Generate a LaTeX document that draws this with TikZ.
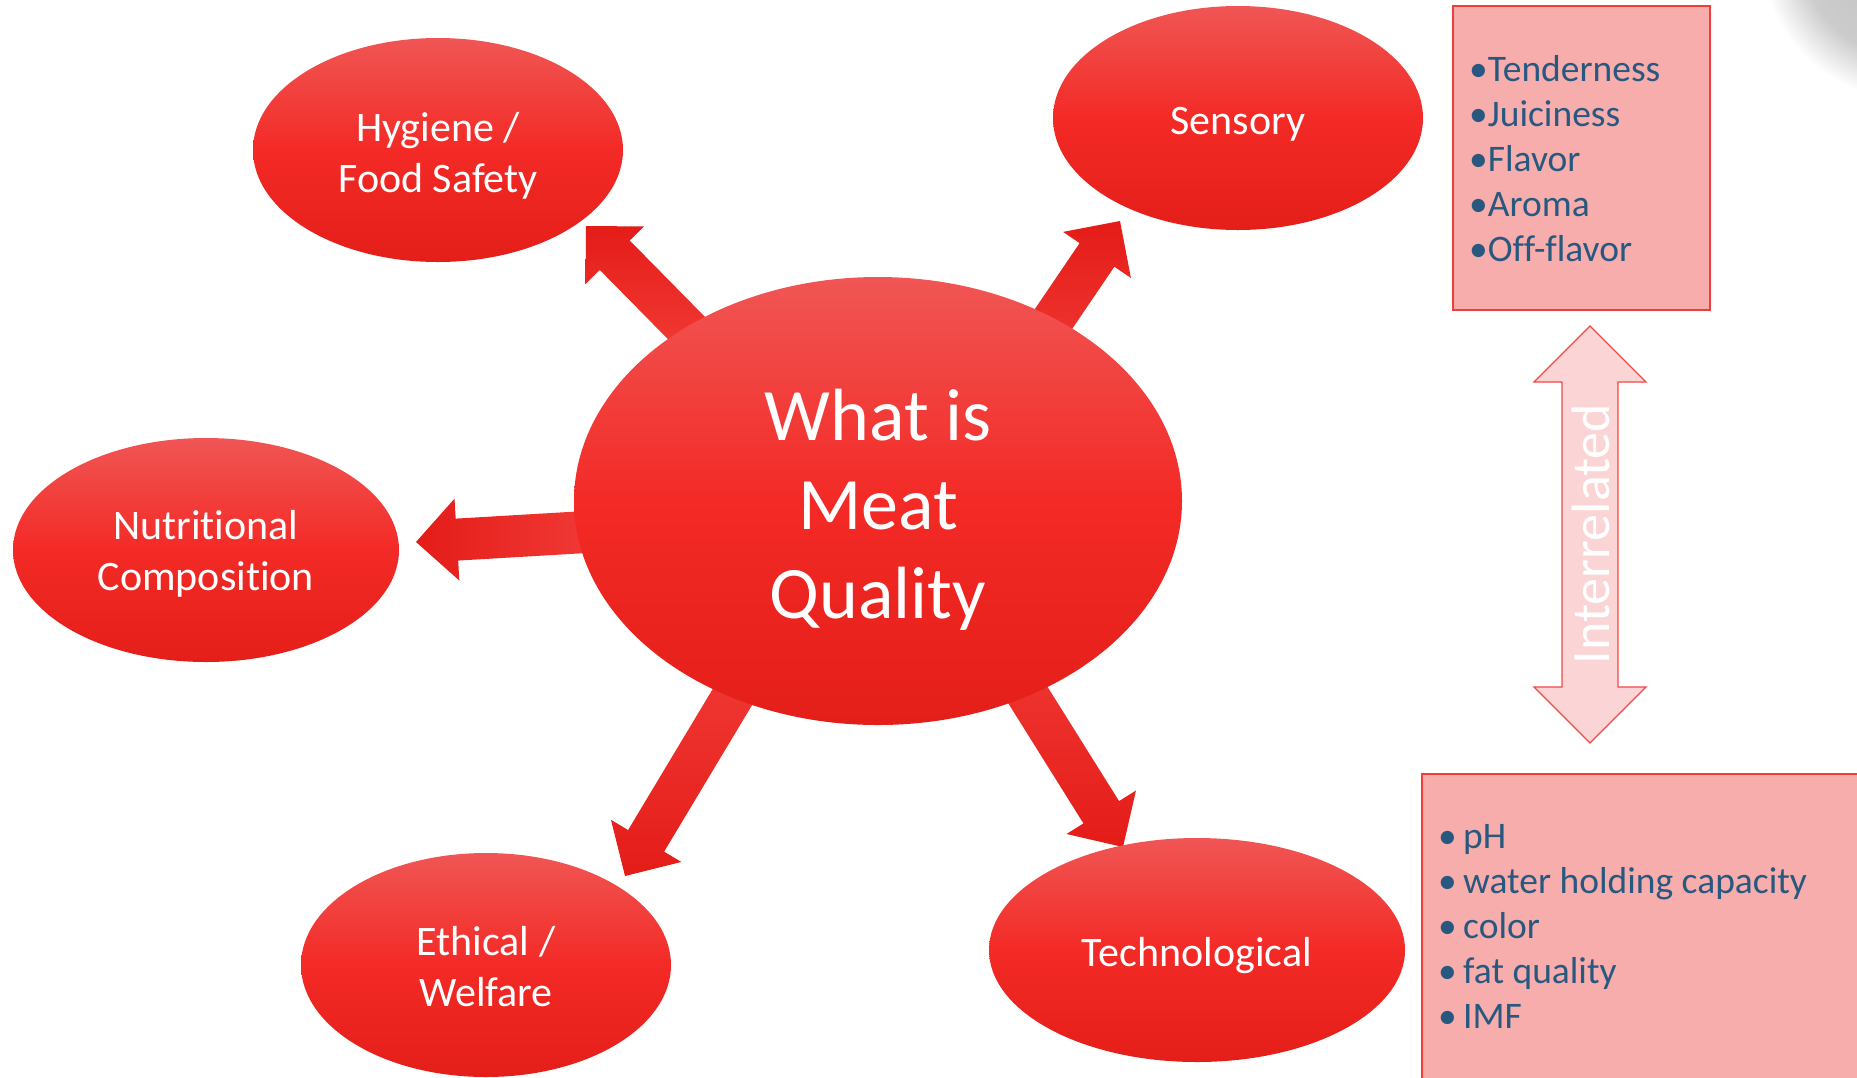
\documentclass[tikz,border=0pt]{standalone}
\usepackage{fontspec}
\setmainfont{Carlito}[Ligatures=NoCommon]
\usetikzlibrary{calc,shapes.geometric}
\definecolor{elltop}{RGB}{240,86,84}
\definecolor{ellmid}{RGB}{243,42,38}
\definecolor{ellbot}{RGB}{228,30,25}
\definecolor{arrdark}{RGB}{228,28,24}
\definecolor{arrlight}{RGB}{243,62,58}
\definecolor{boxfill}{RGB}{246,173,171}
\definecolor{boxline}{RGB}{240,62,58}
\definecolor{dblfill}{RGB}{251,213,213}
\definecolor{dblline}{RGB}{240,72,70}
\definecolor{listblue}{RGB}{40,88,128}
\pgfdeclareradialshading{blobshade}{\pgfpointorigin}{color(0bp)=(black!26); color(18bp)=(black!20); color(25bp)=(white); color(50bp)=(white)}
\newcommand\blockarr[6]{%
  \coordinate (#1neck) at ($(#2)!#5!(#1)$);
  \path[#6] ($(#1)!#3!90:(#2)$) -- ($(#1neck)!#3!90:(#2)$) -- ($(#1neck)!#4!90:(#2)$) -- (#2)
    -- ($(#1neck)!#4!-90:(#2)$) -- ($(#1neck)!#3!-90:(#2)$) -- ($(#1)!#3!-90:(#2)$) -- cycle;}
\begin{document}
\begin{tikzpicture}[x=1pt,y=-1pt,
  ellnode/.style={ellipse, inner sep=0pt, draw=none, top color=elltop, bottom color=ellbot, middle color=ellmid},
  elltext/.style={inner sep=0pt, text=white, align=center, font=\fontsize{42}{51}\selectfont},
  listbox/.style={fill=boxfill, draw=boxline, line width=1.5pt},
  listtxt/.style={inner sep=0pt, text=listblue, font=\fontsize{37.5}{45}\selectfont, anchor=base west},
  arrup/.style={top color=arrdark, bottom color=arrlight},
  arrdown/.style={top color=arrlight, bottom color=arrdark},
  arrleft/.style={left color=arrdark, right color=arrlight},
]
\useasboundingbox (0,0) rectangle (1857,1077);
% shadow artifact in corner
\begin{scope}
  \clip (1600,0) rectangle (1857,200);
  \shade[shading=blobshade] (1910,-50) circle (150);
\end{scope}
% list boxes
\path[listbox] (1453,6) rectangle (1710,310);
\path[listbox] (1422,774) rectangle (1870,1090);
\foreach \t [count=\i] in {Tenderness,Juiciness,Flavor,Aroma,Off-flavor}
  \node[listtxt] (sens\i) at (1469,{36+45*\i}) {•\t};
\foreach \t [count=\i] in {pH,water holding capacity,color,fat quality,IMF}{
  \node[listtxt] (tb\i) at (1438,{803+45*\i}) {•};
  \node[listtxt] (tt\i) at (1463,{803+45*\i}) {\t};}
% interrelated double arrow
\path[fill=dblfill, draw=dblline, line width=1.2pt] (1590,326) -- (1646,382) -- (1618,382) -- (1618,687) -- (1646,687) -- (1590,743) -- (1534,687) -- (1562,687) -- (1562,382) -- (1534,382) -- cycle;
\node[rotate=90, text=white, font=\fontsize{54}{60}\selectfont, inner sep=0pt] (intl) at (1591,534) {Interrelated};
% block arrows
\coordinate (hygT) at (712,354);  \coordinate (hygP) at (586,226);
\coordinate (senT) at (1008,386); \coordinate (senP) at (1120,221);
\coordinate (nutT) at (620,530);  \coordinate (nutP) at (416,542);
\coordinate (ethT) at (769,636);  \coordinate (ethP) at (625,876);
\coordinate (tecT) at (974,609);  \coordinate (tecP) at (1123,847);
\blockarr{hygT}{hygP}{21pt}{41pt}{41pt}{arrup}
\blockarr{senT}{senP}{21pt}{41pt}{41pt}{arrup}
\blockarr{nutT}{nutP}{21pt}{41pt}{41pt}{arrleft}
\blockarr{ethT}{ethP}{21pt}{41pt}{41pt}{arrdown}
\blockarr{tecT}{tecP}{21pt}{41pt}{41pt}{arrdown}
% ellipses
\node[ellnode, minimum width=370pt, minimum height=224pt] (hyg) at (438,150) {};
\node[ellnode, minimum width=370pt, minimum height=224pt] (sen) at (1238,118) {};
\node[ellnode, minimum width=386pt, minimum height=224pt] (nut) at (206,550) {};
\node[ellnode, minimum width=370pt, minimum height=224pt] (eth) at (486,965) {};
\node[ellnode, minimum width=416pt, minimum height=224pt] (tec) at (1197,950) {};
\node[ellnode, minimum width=608pt, minimum height=448pt] (mq) at (878,501) {};
\node[elltext] (hygL) at ($(hyg.center)+(0,6)$) {Hygiene /\\Food Safety};
\node[elltext] (senL) at ($(sen.center)+(0,6)$) {Sensory};
\node[elltext] (nutL) at ($(nut.center)+(0,4)$) {Nutritional\\Composition};
\node[elltext] (ethL) at ($(eth.center)+(0,2)$) {Ethical /\\Welfare};
\node[elltext] (tecL) at ($(tec.center)+(0,6)$) {Technological};
\node[elltext, font=\fontsize{74}{89}\selectfont] (mqL) at ($(mq.center)+(0,9)$) {What is\\Meat\\Quality};
\end{tikzpicture}
\end{document}
